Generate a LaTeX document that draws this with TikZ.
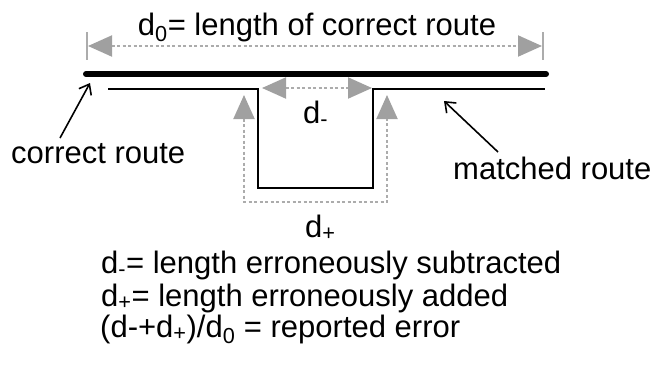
\documentclass[tikz,border=0pt]{standalone}
\usepackage{fontspec}
\setmainfont{Liberation Sans}
\usetikzlibrary{arrows.meta}
\definecolor{dimgray}{RGB}{172,172,172}
\definecolor{tipgray}{RGB}{160,160,160}
\tikzset{
  correct/.style={line width=6pt, line cap=round},
  matched/.style={line width=2pt},
  dimline/.style={dimgray, line width=2pt, dash pattern=on 3pt off 2.5pt,
    {Triangle[length=24pt,width=21pt,color=tipgray]}-{Triangle[length=24pt,width=21pt,color=tipgray]}},
  tickline/.style={dimgray, line width=1.5pt},
  pointer/.style={line width=1.6pt, -{Straight Barb[length=9pt,width=14pt,line width=1.6pt]}},
  lbl/.style={inner sep=0pt, font=\fontsize{31}{34}\selectfont},
}
\begin{document}
\begin{tikzpicture}[x=1pt,y=-1pt]
\useasboundingbox (0,0) rectangle (656,365);
% correct route
\coordinate (cL) at (86,74);
\coordinate (cR) at (546,74);
\draw[correct] (cL) -- (cR);
% matched route
\coordinate (m0) at (108,89);
\coordinate (m1) at (258,89);
\coordinate (m2) at (258,188);
\coordinate (m3) at (373,188);
\coordinate (m4) at (373,89);
\coordinate (m5) at (545,89);
\draw[matched] (m0) -- (m1) -- (m2) -- (m3) -- (m4) -- (m5);
% d0 dimension
\coordinate (t1a) at (87,32); \coordinate (t1b) at (87,60);
\coordinate (t2a) at (543,32); \coordinate (t2b) at (543,60);
\draw[tickline] (t1a) -- (t1b);
\draw[tickline] (t2a) -- (t2b);
\coordinate (d0L) at (88,46); \coordinate (d0R) at (542,46);
\draw[dimline] (d0L) -- (d0R);
% d- dimension
\coordinate (dmL) at (262,88); \coordinate (dmR) at (372,88);
\draw[dimline] (dmL) -- (dmR);
% d+ dimension
\coordinate (dp0) at (244,95); \coordinate (dp1) at (244,202);
\coordinate (dp2) at (387,202); \coordinate (dp3) at (387,95);
\draw[dimline] (dp0) -- (dp1) -- (dp2) -- (dp3);
% labels
\node[lbl, anchor=base] (tlab) at (317,35) {d\textsubscript{0}= length of correct route};
\node[lbl, anchor=base west] (dmlab) at (303,123) {d\textsubscript{-}};
\node[lbl, anchor=base west] (dplab) at (305,237) {d\textsubscript{+}};
\node[lbl, anchor=base west] (crlab) at (11,163) {correct route};
\node[lbl, anchor=base west] (mrlab) at (453,179) {matched route};
\coordinate (crtip) at (90,83);
\coordinate (crtail) at (60,138);
\draw[pointer] (crtail) -- (crtip);
\coordinate (mrtip) at (444,101);
\coordinate (mrtail) at (498,152);
\draw[pointer] (mrtail) -- (mrtip);
\node[lbl, anchor=base west] (l1) at (101,273) {d\textsubscript{-}= length erroneously subtracted};
\node[lbl, anchor=base west] (l2) at (101,306) {d\textsubscript{+}= length erroneously added};
\node[lbl, anchor=base west] (l3) at (100,337) {(d-+d\textsubscript{+})/d\textsubscript{0} = reported error};
\end{tikzpicture}
\end{document}
